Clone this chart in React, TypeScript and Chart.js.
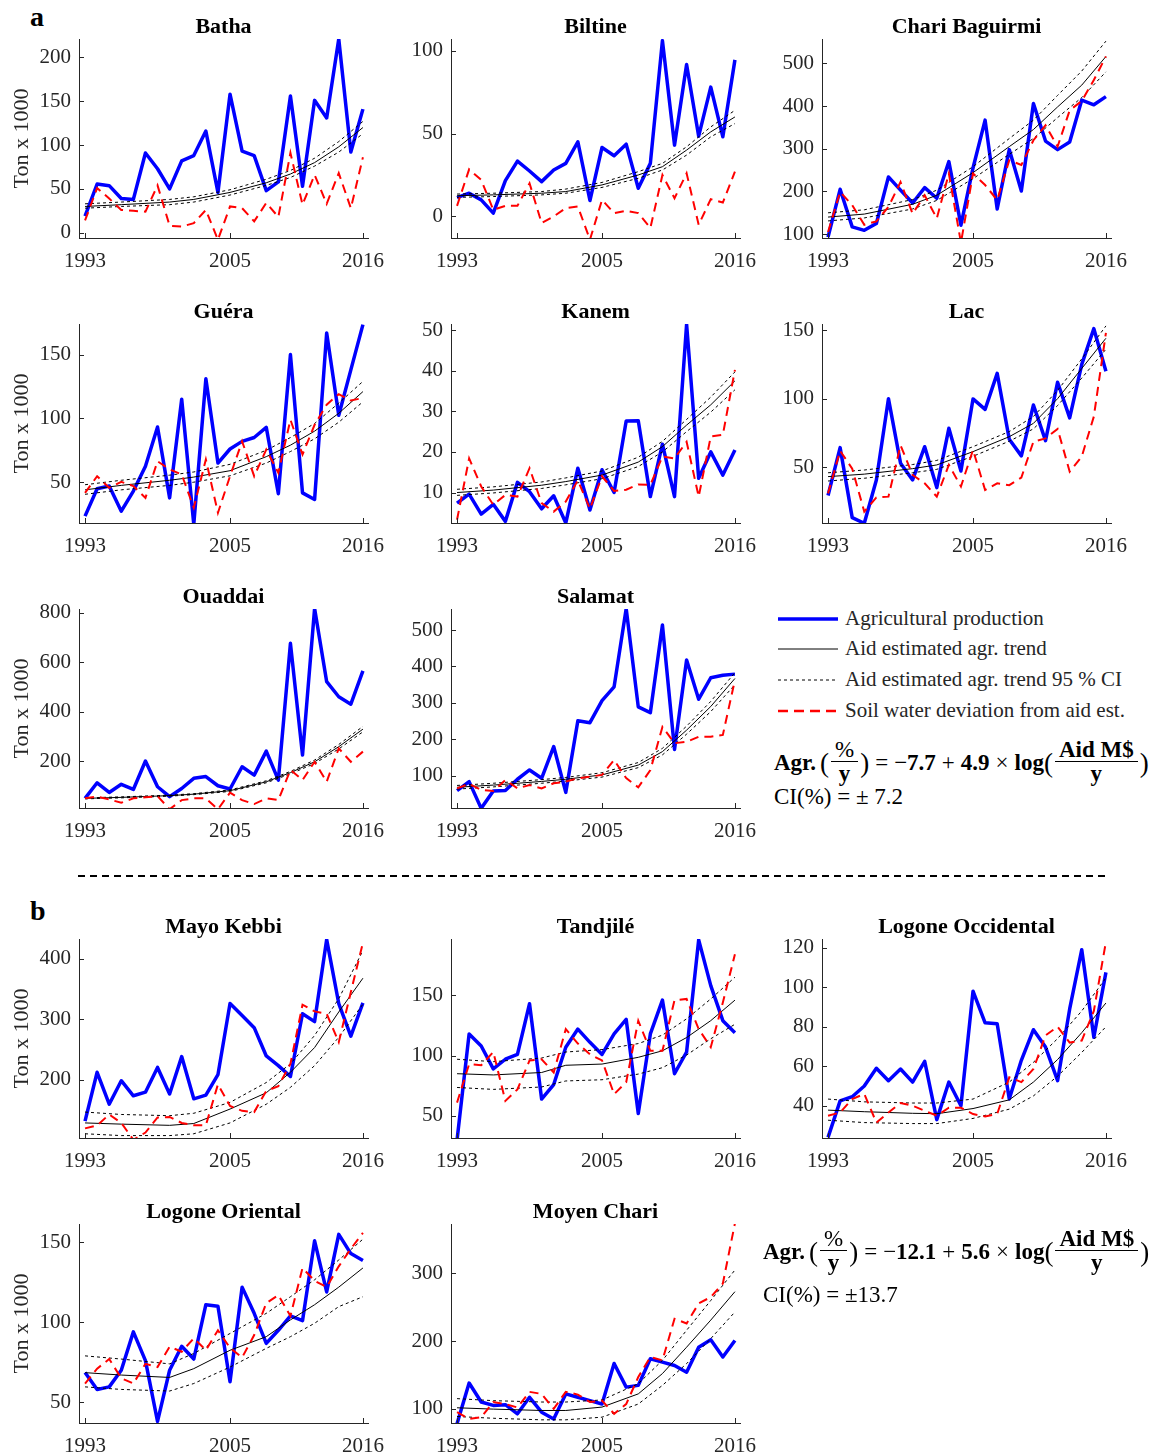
import React, { useEffect, useRef } from "react";
import { Chart, registerables } from "chart.js";

Chart.register(...registerables);

const FONT = "'Liberation Serif', 'Times New Roman', serif";
const INK = "#262626";

// ---------- data ----------
const YEARS = [1993, 1994, 1995, 1996, 1997, 1998, 1999, 2000, 2001, 2002, 2003, 2004, 2005, 2006, 2007, 2008, 2009, 2010, 2011, 2012, 2013, 2014, 2015, 2016];
const TREND_YEARS = [1993, 1996, 2000, 2002, 2005, 2008, 2010, 2012, 2014, 2016];
const X_TICKS = [1993, 2005, 2016];

const BATHA_PROD = [19, 55.6, 53.7, 39, 38, 91, 73, 50, 82, 88, 116, 46, 158, 93, 88, 48, 58, 156, 53, 151, 131, 221, 92, 141];
const BATHA_SOIL = [14, 51, 39, 26, 25, 24, 54, 8, 7, 11, 26, -8, 30, 28, 13, 34, 18, 91, 32, 66, 33, 68, 28, 86];
const BATHA_TREND = [30, 32, 35, 38, 46, 57, 67, 80, 98, 120];
const BATHA_UP = [33, 35, 38, 41, 49, 61, 71, 85, 104, 127];
const BATHA_LO = [28, 30, 32, 35, 43, 54, 63, 76, 92, 113];
const BATHA_YTICKS = [0, 50, 100, 150, 200];

const BILTINE_PROD = [11.4, 14, 10, 2, 21.6, 33.4, 27.4, 21, 28, 32, 45, 9.6, 41.6, 36.6, 43.6, 17, 32, 106, 43, 91.6, 48.4, 78, 48, 94.4];
const BILTINE_SOIL = [6.4, 28.4, 22, 4, 6.4, 6.4, 20, -4, 0, 5, 6, -14, 10, 2, 3.4, 2, -7, 25, 11, 26, -5, 10.4, 8.4, 27];
const BILTINE_TREND = [12.5, 13, 14, 15, 19, 25, 30, 40, 51, 60];
const BILTINE_UP = [13.5, 14, 15, 16.5, 20.5, 27, 32, 42, 54, 64];
const BILTINE_LO = [11.5, 12, 13, 14, 17.5, 23, 28, 37, 48, 56];
const BILTINE_YTICKS = [0, 50, 100];

const CHARI_PROD = [93, 205, 117, 109, 125, 234, 203, 173, 209, 184, 270, 121, 255, 367, 159, 298, 201, 406, 318, 298, 316, 414, 403, 422];
const CHARI_SOIL = [105, 199, 168, 122, 130, 164, 222, 148, 191, 137, 242, 80, 242, 215, 180, 273, 262, 320, 355, 305, 390, 412, 461, 516];
const CHARI_TREND = [140, 147, 170, 191, 244, 305, 345, 398, 449, 516];
const CHARI_UP = [150, 157, 181, 203, 258, 324, 367, 425, 482, 552];
const CHARI_LO = [131, 138, 159, 179, 230, 287, 324, 373, 420, 480];
const CHARI_YTICKS = [100, 200, 300, 400, 500];

const GUERA_PROD = [23.4, 44.8, 47, 27.3, 43, 62.5, 93.3, 37.7, 115, 17, 131, 65, 76, 82, 85, 93, 41, 150, 41.6, 36.4, 167, 102.5, 138, 173.5];
const GUERA_SOIL = [41.6, 54.7, 45.6, 50.3, 47, 37.7, 66.4, 60, 56, 30, 67.8, 26, 54.7, 82, 54.7, 75.6, 57.3, 99, 71.7, 95, 110.8, 119, 114, 116];
const GUERA_TREND = [44, 47.5, 51.5, 54, 59, 70, 79, 90, 104, 121];
const GUERA_UP = [48, 51.5, 55.5, 58, 64, 75, 85, 96, 112, 129];
const GUERA_LO = [40.5, 44, 47.5, 50, 55, 65, 74, 84, 97, 113];
const GUERA_YTICKS = [50, 100, 150];

const KANEM_PROD = [7.4, 9.6, 4.7, 7.1, 2.9, 12.5, 10.2, 6, 9.2, 2.5, 16, 5.7, 15.6, 10, 27.6, 27.7, 9, 21.9, 9, 51.4, 13.5, 20, 14.3, 20.5];
const KANEM_SOIL = [3.3, 18.4, 11.5, 7, 9.4, 9, 16, 7.4, 5.3, 7.8, 13, 6, 14, 10.4, 10.7, 12, 11.9, 18.9, 18.4, 22.5, 9, 23.8, 24.2, 40.2];
const KANEM_TREND = [10, 10.6, 11.8, 12.7, 14.3, 17.5, 21.3, 26.6, 31.6, 37.5];
const KANEM_UP = [10.8, 11.4, 12.6, 13.6, 15.3, 18.7, 22.6, 28, 33.5, 39.7];
const KANEM_LO = [9.3, 9.9, 11, 11.9, 13.4, 16.4, 20, 25, 29.8, 35.3];
const KANEM_YTICKS = [10, 20, 30, 40, 50];

const LAC_PROD = [29.4, 64.3, 13.3, 9.2, 40.8, 100, 53, 40.8, 65, 35.2, 78.4, 47.3, 99.8, 92.2, 118.4, 70.4, 58.3, 95.4, 69.4, 112, 86, 125, 151, 120];
const LAC_SOIL = [31, 62, 49, 17.7, 28, 28.6, 66, 44.4, 38.3, 28.6, 51.7, 36, 62.6, 33.5, 38.3, 37, 42.5, 68.7, 71, 78, 46.8, 57.8, 87, 148];
const LAC_TREND = [43.2, 45, 49, 51.7, 61.4, 72.3, 82, 100, 122, 144];
const LAC_UP = [46, 48, 52, 55, 65, 76, 87, 106, 129, 153];
const LAC_LO = [40, 42, 46, 48.5, 58, 69, 78, 95, 115, 136];
const LAC_YTICKS = [50, 100, 150];

const OUADDAI_PROD = [49, 112, 73, 106, 85, 200, 96, 56, 89, 130, 137, 100, 87, 177, 143, 240, 123, 676, 224, 817, 521, 460, 430, 565];
const OUADDAI_SOIL = [49, 56, 45, 31, 49, 53, 58, 5, 42, 49, 49, 5, 72, 42, 26, 49, 42, 164, 123, 197, 116, 251, 197, 238];
const OUADDAI_TREND = [49, 53, 60, 66, 80, 116, 153, 197, 258, 329];
const OUADDAI_UP = [51, 55, 62, 68, 83, 120, 158, 204, 267, 340];
const OUADDAI_LO = [47, 51, 58, 64, 77, 112, 148, 190, 249, 318];
const OUADDAI_YTICKS = [200, 400, 600, 800];

const SALAMAT_PROD = [59, 83.5, 10, 58, 59, 90, 115.6, 92.7, 180, 54, 251, 245.5, 306, 344, 559, 289, 273, 514, 172, 418, 310, 369, 376, 379];
const SALAMAT_SOIL = [65, 77, 61, 58, 88, 65, 74, 65, 79, 83.5, 92.7, 97, 102, 143, 93, 68, 115, 234, 189, 193, 207, 207, 212, 363];
const SALAMAT_TREND = [68, 74, 84, 90, 102, 129, 166, 225, 290, 367];
const SALAMAT_UP = [73, 79, 89, 95, 108, 136, 175, 236, 304, 383];
const SALAMAT_LO = [63, 69, 79, 85, 96, 122, 157, 214, 276, 350];
const SALAMAT_YTICKS = [100, 200, 300, 400, 500];

const MAYO_PROD = [131, 212, 159, 198, 173, 179, 220, 176, 238, 168, 174, 208, 326, 306, 286, 239, 223, 205, 309, 296, 432, 326, 272, 327];
const MAYO_SOIL = [119, 124, 142, 128, 100, 112, 137, 138, 128, 124, 124, 192, 156, 148, 146, 181, 189, 226, 324, 313, 309, 262, 345, 427];
const MAYO_TREND = [128, 126, 124, 127, 151, 178, 212, 253, 312, 368];
const MAYO_UP = [146, 142, 140, 144, 162, 195, 226, 273, 334, 414];
const MAYO_LO = [110, 107, 107, 110, 128, 159, 187, 223, 270, 325];
const MAYO_YTICKS = [200, 300, 400];

const TANDJILE_PROD = [30, 118, 108, 89, 97, 101, 143, 64, 76, 107, 122, 111, 101, 118, 130, 52, 118, 146, 85, 103, 196, 158, 129, 119];
const TANDJILE_SOIL = [61, 93, 92, 103, 62.5, 72, 96, 97, 86, 122, 110, 101, 96, 68, 78, 129, 104, 104, 146, 147, 122, 107, 144, 184];
const TANDJILE_TREND = [85, 84, 86, 92, 93, 98.6, 104, 115, 129, 146];
const TANDJILE_UP = [97, 95, 98, 103, 105, 110, 117, 130.5, 147, 165];
const TANDJILE_LO = [73.6, 72, 74, 79, 80, 84.7, 90, 100.5, 114, 126];
const TANDJILE_YTICKS = [50, 100, 150];

const LOGOCC_PROD = [24, 42.5, 44.6, 50, 59, 52.7, 58.6, 52, 62.5, 33, 52, 40, 98, 82, 81.5, 43.4, 63, 78.5, 69.7, 52.7, 89, 119, 74.7, 107.5];
const LOGOCC_SOIL = [35, 36.6, 43.4, 46, 31.5, 36.6, 41.4, 40, 37.5, 35, 39, 39, 35.8, 34.6, 35.8, 54.4, 52, 58.6, 75.6, 80, 72, 73, 88, 123];
const LOGOCC_TREND = [37.8, 37, 36.2, 36, 38.6, 43, 52, 63.4, 77, 92];
const LOGOCC_UP = [43.4, 42, 41.4, 41.4, 43.4, 52, 62, 74, 88, 104.7];
const LOGOCC_LO = [32.7, 31.5, 31, 31, 33.6, 38.3, 45, 55, 67, 80];
const LOGOCC_YTICKS = [40, 60, 80, 100, 120];

const LOGOR_PROD = [68.6, 58, 59.6, 70, 94, 76, 38, 70, 85, 77, 111, 110, 62.8, 122, 105.6, 86.8, 95, 104, 101, 151, 119, 155, 143, 138.7];
const LOGOR_SOIL = [61.7, 71, 77, 65, 61.7, 74, 72, 84.7, 81.6, 90, 82.6, 95, 84, 78, 92, 112, 117, 104, 134, 126, 122, 135, 146, 156];
const LOGOR_TREND = [68.5, 67, 65.5, 71, 82.5, 91, 101.5, 111, 122, 134];
const LOGOR_UP = [79, 77, 74, 80.5, 93, 105.6, 116, 126.6, 139, 152];
const LOGOR_LO = [59.6, 58, 57, 61.7, 72, 83.7, 91, 99.4, 109.8, 116];
const LOGOR_YTICKS = [50, 100, 150];

const MOYEN_PROD = [78, 138, 110, 105, 106, 92.6, 117, 95, 85, 122, 117, 112, 107, 167, 132, 134.6, 174, 169, 164, 154, 191, 202, 176.5, 201];
const MOYEN_SOIL = [95, 85, 87.6, 110, 107, 102, 125, 122, 100, 125, 121, 110, 112, 92.6, 107, 147, 176.5, 171.6, 233, 226, 255.6, 265, 285, 374];
const MOYEN_TREND = [101.5, 99.5, 97.5, 97.5, 102.5, 122, 152, 191, 231, 273];
const MOYEN_UP = [115, 112, 110, 110, 113, 137, 171.6, 216, 260, 305];
const MOYEN_LO = [88.6, 86, 83.7, 83.7, 87.6, 107, 134.6, 166.7, 203.7, 243];
const MOYEN_YTICKS = [100, 200, 300];

const LEGEND_LABELS = [
  "Agricultural production",
  "Aid estimated agr. trend",
  "Aid estimated agr. trend 95 % CI",
  "Soil water deviation from aid est.",
];

// ---------- layout ----------
type PanelSpec = {
  title: string;
  prod: number[];
  soil: number[];
  trend: number[];
  upper: number[];
  lower: number[];
  yMin: number;
  yMax: number;
  yTicks: number[];
  col: number;
  row: number;
};

const COL_LEFT = [79, 451, 822];
const ROW_TOP = [39, 324, 609, 939, 1224];
const PLOT_W = 289;
const PLOT_H = 199;
const X_MIN = 1992.5;
const X_MAX = 2016.42;
const YW = 74;
const PR = 30;
const PT = 27;
const XH = 44;

const PANELS: PanelSpec[] = [
  { title: "Batha", prod: BATHA_PROD, soil: BATHA_SOIL, trend: BATHA_TREND, upper: BATHA_UP, lower: BATHA_LO, yMin: -6, yMax: 221, yTicks: BATHA_YTICKS, col: 0, row: 0 },
  { title: "Biltine", prod: BILTINE_PROD, soil: BILTINE_SOIL, trend: BILTINE_TREND, upper: BILTINE_UP, lower: BILTINE_LO, yMin: -13, yMax: 107, yTicks: BILTINE_YTICKS, col: 1, row: 0 },
  { title: "Chari Baguirmi", prod: CHARI_PROD, soil: CHARI_SOIL, trend: CHARI_TREND, upper: CHARI_UP, lower: CHARI_LO, yMin: 91, yMax: 557, yTicks: CHARI_YTICKS, col: 2, row: 0 },
  { title: "Guéra", prod: GUERA_PROD, soil: GUERA_SOIL, trend: GUERA_TREND, upper: GUERA_UP, lower: GUERA_LO, yMin: 18, yMax: 174, yTicks: GUERA_YTICKS, col: 0, row: 1 },
  { title: "Kanem", prod: KANEM_PROD, soil: KANEM_SOIL, trend: KANEM_TREND, upper: KANEM_UP, lower: KANEM_LO, yMin: 2.5, yMax: 51.5, yTicks: KANEM_YTICKS, col: 1, row: 1 },
  { title: "Lac", prod: LAC_PROD, soil: LAC_SOIL, trend: LAC_TREND, upper: LAC_UP, lower: LAC_LO, yMin: 9.4, yMax: 154.4, yTicks: LAC_YTICKS, col: 2, row: 1 },
  { title: "Ouaddai", prod: OUADDAI_PROD, soil: OUADDAI_SOIL, trend: OUADDAI_TREND, upper: OUADDAI_UP, lower: OUADDAI_LO, yMin: 10, yMax: 815, yTicks: OUADDAI_YTICKS, col: 0, row: 2 },
  { title: "Salamat", prod: SALAMAT_PROD, soil: SALAMAT_SOIL, trend: SALAMAT_TREND, upper: SALAMAT_UP, lower: SALAMAT_LO, yMin: 11, yMax: 558, yTicks: SALAMAT_YTICKS, col: 1, row: 2 },
  { title: "Mayo Kebbi", prod: MAYO_PROD, soil: MAYO_SOIL, trend: MAYO_TREND, upper: MAYO_UP, lower: MAYO_LO, yMin: 103, yMax: 433, yTicks: MAYO_YTICKS, col: 0, row: 3 },
  { title: "Tandjilé", prod: TANDJILE_PROD, soil: TANDJILE_SOIL, trend: TANDJILE_TREND, upper: TANDJILE_UP, lower: TANDJILE_LO, yMin: 31.7, yMax: 196.7, yTicks: TANDJILE_YTICKS, col: 1, row: 3 },
  { title: "Logone Occidental", prod: LOGOCC_PROD, soil: LOGOCC_SOIL, trend: LOGOCC_TREND, upper: LOGOCC_UP, lower: LOGOCC_LO, yMin: 23.7, yMax: 124.4, yTicks: LOGOCC_YTICKS, col: 2, row: 3 },
  { title: "Logone Oriental", prod: LOGOR_PROD, soil: LOGOR_SOIL, trend: LOGOR_TREND, upper: LOGOR_UP, lower: LOGOR_LO, yMin: 37, yMax: 161.5, yTicks: LOGOR_YTICKS, col: 0, row: 4 },
  { title: "Moyen Chari", prod: MOYEN_PROD, soil: MOYEN_SOIL, trend: MOYEN_TREND, upper: MOYEN_UP, lower: MOYEN_LO, yMin: 79, yMax: 373, yTicks: MOYEN_YTICKS, col: 1, row: 4 },
];

const inwardTicks = {
  id: "inwardTicks",
  afterDatasetsDraw(chart: any) {
    const { ctx, chartArea: a, scales } = chart;
    const x = scales.x;
    const y = scales.y;
    ctx.save();
    ctx.strokeStyle = INK;
    ctx.lineWidth = 1;
    x.ticks.forEach((t: any) => {
      const px = Math.round(x.getPixelForValue(t.value)) + 0.5;
      ctx.beginPath();
      ctx.moveTo(px, a.bottom);
      ctx.lineTo(px, a.bottom - 5);
      ctx.stroke();
    });
    y.ticks.forEach((t: any) => {
      const py = Math.round(y.getPixelForValue(t.value)) + 0.5;
      ctx.beginPath();
      ctx.moveTo(a.left, py);
      ctx.lineTo(a.left + 5, py);
      ctx.stroke();
    });
    ctx.restore();
  },
};

function pts(xs: number[], ys: number[]) {
  return xs.map((x, i) => ({ x, y: ys[i] }));
}

function Panel({ spec }: { spec: PanelSpec }) {
  const ref = useRef<HTMLCanvasElement | null>(null);
  const left = COL_LEFT[spec.col] - YW;
  const top = ROW_TOP[spec.row] - PT;
  const w = PLOT_W + YW + PR;
  const h = PLOT_H + PT + XH;

  useEffect(() => {
    if (!ref.current) return;
    const chart = new Chart(ref.current, {
      type: "line",
      data: {
        datasets: [
          {
            label: LEGEND_LABELS[3],
            data: pts(YEARS, spec.soil),
            borderColor: "#ff0000",
            borderWidth: 2,
            borderDash: [9, 6],
            pointRadius: 0,
            fill: false,
          },
          {
            label: LEGEND_LABELS[2] + " (upper)",
            data: pts(TREND_YEARS, spec.upper),
            borderColor: "#000000",
            borderWidth: 1,
            borderDash: [3, 3],
            pointRadius: 0,
            fill: false,
          },
          {
            label: LEGEND_LABELS[2] + " (lower)",
            data: pts(TREND_YEARS, spec.lower),
            borderColor: "#000000",
            borderWidth: 1,
            borderDash: [3, 3],
            pointRadius: 0,
            fill: false,
          },
          {
            label: LEGEND_LABELS[1],
            data: pts(TREND_YEARS, spec.trend),
            borderColor: "#000000",
            borderWidth: 1,
            pointRadius: 0,
            fill: false,
          },
          {
            label: LEGEND_LABELS[0],
            data: pts(YEARS, spec.prod),
            borderColor: "#0000ff",
            borderWidth: 3.5,
            borderJoinStyle: "round",
            pointRadius: 0,
            fill: false,
          },
        ],
      },
      options: {
        responsive: false,
        animation: false,
        devicePixelRatio: 1,
        layout: { padding: { top: 0, right: PR, bottom: 0, left: 0 } },
        plugins: {
          legend: { display: false },
          tooltip: { enabled: false },
          title: {
            display: true,
            text: spec.title,
            fullSize: false,
            color: "#000000",
            font: { family: FONT, size: 22, weight: "bold", lineHeight: 1 },
            padding: { top: 4, bottom: 1 },
          },
        },
        scales: {
          x: {
            type: "linear",
            min: X_MIN,
            max: X_MAX,
            grid: { display: false, drawTicks: false },
            border: { display: true, color: INK, width: 1 },
            ticks: {
              color: INK,
              font: { family: FONT, size: 21 },
              padding: 11,
              maxRotation: 0,
              autoSkip: false,
              callback: (v: any) => String(v),
            },
            afterBuildTicks: (s: any) => {
              s.ticks = X_TICKS.map((v) => ({ value: v }));
            },
            afterFit: (s: any) => {
              s.height = XH;
            },
          },
          y: {
            type: "linear",
            min: spec.yMin,
            max: spec.yMax,
            grid: { display: false, drawTicks: false },
            border: { display: true, color: INK, width: 1 },
            ticks: {
              color: INK,
              font: { family: FONT, size: 21 },
              padding: 8,
              autoSkip: false,
              callback: (v: any) => String(v),
            },
            afterBuildTicks: (s: any) => {
              s.ticks = spec.yTicks.map((v) => ({ value: v }));
            },
            afterFit: (s: any) => {
              s.width = YW;
            },
            title: {
              display: spec.col === 0,
              text: "Ton x 1000",
              color: INK,
              font: { family: FONT, size: 22 },
              padding: { top: 4, bottom: 0 },
            },
          },
        },
      } as any,
      plugins: [inwardTicks],
    });
    return () => chart.destroy();
  }, [spec]);

  return (
    <canvas
      ref={ref}
      width={w}
      height={h}
      style={{ position: "absolute", left, top, width: w, height: h }}
    />
  );
}

function Frac({ num, den }: { num: React.ReactNode; den: React.ReactNode }) {
  return (
    <span
      style={{
        display: "inline-flex",
        flexDirection: "column",
        alignItems: "center",
        margin: "0 2px",
      }}
    >
      <span style={{ lineHeight: "22px", padding: "0 4px" }}>{num}</span>
      <span style={{ borderTop: "1.3px solid #000", alignSelf: "stretch" }} />
      <span style={{ lineHeight: "24px" }}>{den}</span>
    </span>
  );
}

function Equation({ left, top, a, b }: { left: number; top: number; a: string; b: string }) {
  const paren: React.CSSProperties = { fontSize: 27, lineHeight: "30px" };
  const op: React.CSSProperties = { margin: "0 6px" };
  return (
    <div
      style={{
        position: "absolute",
        left,
        top,
        display: "flex",
        alignItems: "center",
        whiteSpace: "pre",
        fontFamily: FONT,
        fontSize: 23,
        color: "#000",
      }}
    >
      <b>Agr.</b>
      <span style={{ ...paren, marginLeft: 4 }}>(</span>
      <Frac num="%" den={<b>y</b>} />
      <span style={paren}>)</span>
      <span style={op}>=</span>
      <span>−</span>
      <b>{a}</b>
      <span style={op}>+</span>
      <b>{b}</b>
      <span style={op}>×</span>
      <b>log</b>
      <span style={paren}>(</span>
      <Frac num={<b>Aid M$</b>} den={<b>y</b>} />
      <span style={paren}>)</span>
    </div>
  );
}

const LEGEND_STYLES = [
  { color: "#0000ff", width: 3.5, dash: "" },
  { color: "#000000", width: 1, dash: "" },
  { color: "#000000", width: 1, dash: "3 3" },
  { color: "#ff0000", width: 2.5, dash: "10 6" },
];
const LEGEND_Y = [619, 649, 680, 711];

function Legend() {
  return (
    <>
      {LEGEND_LABELS.map((label, i) => (
        <React.Fragment key={label}>
          <svg
            width={64}
            height={10}
            style={{ position: "absolute", left: 776, top: LEGEND_Y[i] - 5 }}
          >
            <line
              x1={2}
              x2={62}
              y1={5}
              y2={5}
              stroke={LEGEND_STYLES[i].color}
              strokeWidth={LEGEND_STYLES[i].width}
              strokeDasharray={LEGEND_STYLES[i].dash || undefined}
            />
          </svg>
          <div
            style={{
              position: "absolute",
              left: 845,
              top: LEGEND_Y[i] - 13,
              fontFamily: FONT,
              fontSize: 21,
              lineHeight: "24px",
              color: "#262626",
              whiteSpace: "nowrap",
            }}
          >
            {label}
          </div>
        </React.Fragment>
      ))}
    </>
  );
}

export default function App() {
  return (
    <div
      style={{
        position: "absolute",
        left: 0,
        top: 0,
        width: 1153,
        height: 1454,
        background: "#ffffff",
        overflow: "hidden",
      }}
    >
      <div style={{ position: "absolute", left: 30, top: 3, fontFamily: FONT, fontWeight: "bold", fontSize: 28, lineHeight: "28px" }}>a</div>
      <div style={{ position: "absolute", left: 30, top: 897, fontFamily: FONT, fontWeight: "bold", fontSize: 28, lineHeight: "28px" }}>b</div>

      {PANELS.map((p) => (
        <Panel key={p.title} spec={p} />
      ))}

      <Legend />
      <Equation left={774} top={739} a="7.7" b="4.9" />
      <div style={{ position: "absolute", left: 774, top: 784, fontFamily: FONT, fontSize: 23, lineHeight: "26px", whiteSpace: "pre" }}>CI(%) = ± 7.2</div>

      <Equation left={763} top={1228} a="12.1" b="5.6" />
      <div style={{ position: "absolute", left: 763, top: 1282, fontFamily: FONT, fontSize: 23, lineHeight: "26px", whiteSpace: "pre" }}>CI(%) = ±13.7</div>

      <svg width={1153} height={12} style={{ position: "absolute", left: 0, top: 870 }}>
        <line x1={78} x2={1110} y1={6} y2={6} stroke="#000" strokeWidth={2} strokeDasharray="7 5" />
      </svg>
    </div>
  );
}
